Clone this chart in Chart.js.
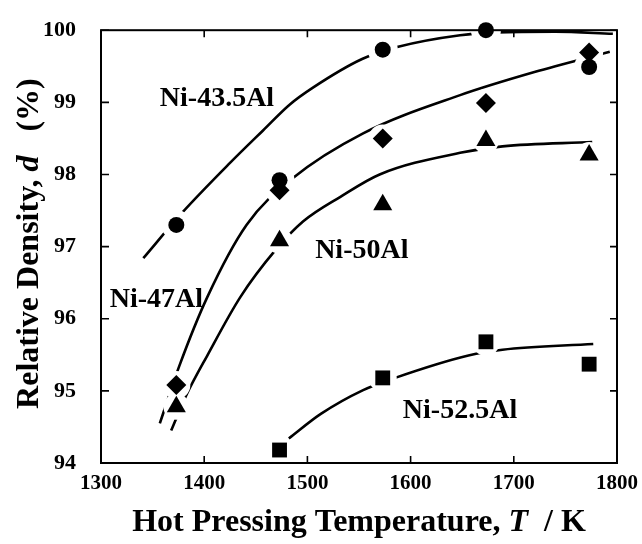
<!DOCTYPE html>
<html>
<head>
<meta charset="utf-8">
<script src="https://cdn.jsdelivr.net/npm/chart.js@4.4.1/dist/chart.umd.min.js"></script>
<style>
  html, body { margin: 0; padding: 0; background: #fff; }
  #wrap { width: 642px; height: 544px; }
</style>
</head>
<body>
<div id="wrap"><canvas id="densityChart" width="642" height="544"></canvas></div>
<script>
// Hot pressing temperatures (K)
const temps = [1373, 1473, 1573, 1673, 1773];

// Measured relative density (%)
const ni435 = [97.3, 97.92, 99.73, 100.0, 99.49];
const ni47 = [95.08, 97.78, 98.5, 98.99, 99.69];
const ni50 = [94.78, 97.08, 97.58, 98.47, 98.27];
const ni525 = [null, 94.18, 95.18, 95.68, 95.37];

// Trend curves (T, d)
const fit435T = [1341, 1378, 1425, 1457, 1483, 1505, 1553, 1588, 1648, 1684, 1740, 1796];
const fit435D = [96.84, 97.46, 98.16, 98.61, 98.97, 99.2, 99.6, 99.77, 99.93, 99.97, 99.98, 99.95];
const fit47T = [1357, 1376, 1403, 1441, 1486, 1554, 1648, 1720, 1793];
const fit47D = [94.55, 95.35, 96.3, 97.3, 97.95, 98.57, 99.1, 99.42, 99.7];
const fit50T = [1368, 1383, 1403, 1435, 1469, 1496, 1532, 1570, 1648, 1689, 1776];
const fit50D = [94.45, 94.95, 95.49, 96.3, 96.95, 97.35, 97.69, 98.0, 98.3, 98.39, 98.45];
const fit525T = [1482, 1513, 1554, 1585, 1656, 1689, 1777];
const fit525D = [94.34, 94.68, 95.01, 95.18, 95.49, 95.57, 95.65];

const xTicks = [1300, 1400, 1500, 1600, 1700, 1800];
const yTicks = [94, 95, 96, 97, 98, 99, 100];

const seriesNames = ['Ni-43.5Al', 'Ni-47Al', 'Ni-50Al', 'Ni-52.5Al'];

const SERIF = "'Liberation Serif', 'Times New Roman', serif";

function pts(xs, ys) {
  return xs.map((v, i) => ({ x: v, y: ys[i] })).filter(p => p.y !== null);
}

// higher order is painted first: curves, then white patches, then symbols
function curve(xs, ys) {
  return {
    data: pts(xs, ys),
    showLine: true,
    borderColor: '#000',
    borderWidth: 2.6,
    pointRadius: 0,
    cubicInterpolationMode: 'monotone',
    order: 3
  };
}

// white patch under each symbol so the curves break around it
function halo(ys, r) {
  return {
    data: pts(temps, ys),
    pointStyle: 'circle',
    pointRadius: r,
    pointBackgroundColor: '#fff',
    pointBorderWidth: 0,
    clip: false,
    order: 2
  };
}

function marks(ys, style, r) {
  return {
    data: pts(temps, ys),
    pointStyle: style,
    pointRadius: r,
    pointBackgroundColor: '#000',
    pointBorderColor: '#000',
    pointBorderWidth: 0,
    clip: false,
    order: 1
  };
}

// label anchors in data units (left edge, baseline)
const nameAt = [
  { x: 1357, y: 98.95 },
  { x: 1308.5, y: 96.16 },
  { x: 1507.5, y: 96.84 },
  { x: 1592.5, y: 94.62 }
];

const frameTicks = {
  id: 'frameTicks',
  afterDatasetsDraw(chart) {
    const { ctx, chartArea: a, scales: { x, y } } = chart;
    ctx.save();
    ctx.strokeStyle = '#000';
    ctx.lineWidth = 2;
    ctx.strokeRect(a.left, a.top, a.right - a.left, a.bottom - a.top);
    ctx.lineWidth = 1.6;
    ctx.beginPath();
    xTicks.forEach(v => {
      const px = x.getPixelForValue(v);
      ctx.moveTo(px, a.bottom); ctx.lineTo(px, a.bottom - 7);
      ctx.moveTo(px, a.top); ctx.lineTo(px, a.top + 7);
    });
    yTicks.forEach(v => {
      const py = y.getPixelForValue(v);
      ctx.moveTo(a.left, py); ctx.lineTo(a.left + 8, py);
      ctx.moveTo(a.right, py); ctx.lineTo(a.right - 7, py);
    });
    ctx.stroke();

    // series names
    ctx.fillStyle = '#000';
    ctx.font = 'bold 28px ' + SERIF;
    ctx.textAlign = 'left';
    ctx.textBaseline = 'alphabetic';
    seriesNames.forEach((n, i) => {
      ctx.fillText(n, x.getPixelForValue(nameAt[i].x), y.getPixelForValue(nameAt[i].y));
    });
    ctx.restore();
  }
};

// axis titles with italic symbols
function drawRuns(ctx, runs, cx, cy) {
  let total = 0;
  runs.forEach(r => { ctx.font = r.f; r.w = ctx.measureText(r.t).width; total += r.w; });
  let px = cx - total / 2;
  runs.forEach(r => { ctx.font = r.f; ctx.fillText(r.t, px, cy); px += r.w; });
}

const axisTitles = {
  id: 'axisTitles',
  afterDraw(chart) {
    const { ctx, chartArea: a } = chart;
    const b = 'bold 32px ' + SERIF;
    const bi = 'italic bold 32px ' + SERIF;
    ctx.save();
    ctx.fillStyle = '#000';
    ctx.textAlign = 'left';
    ctx.textBaseline = 'alphabetic';
    drawRuns(ctx, [
      { t: 'Hot Pressing Temperature, ', f: b },
      { t: 'T', f: bi },
      { t: '  / K', f: b }
    ], (a.left + a.right) / 2, 531);

    ctx.translate(38, (a.top + a.bottom) / 2 - 3);
    ctx.rotate(-Math.PI / 2);
    drawRuns(ctx, [
      { t: 'Relative Density, ', f: b },
      { t: 'd', f: bi },
      { t: '   (%)', f: b }
    ], 0, 0);
    ctx.restore();
  }
};

new Chart(document.getElementById('densityChart'), {
  type: 'scatter',
  data: {
    datasets: [
      curve(fit435T, fit435D),
      curve(fit47T, fit47D),
      curve(fit50T, fit50D),
      curve(fit525T, fit525D),
      halo(ni435, 15), halo(ni47, 14), halo(ni50, 13), halo(ni525, 14),
      marks(ni435, 'circle', 8),
      marks(ni47, 'rectRot', 10),
      marks(ni50, 'triangle', 11),
      marks(ni525, 'rect', 10.5)
    ]
  },
  options: {
    responsive: false,
    animation: false,
    layout: { padding: { top: 19, right: 25, left: 0, bottom: 0 } },
    plugins: { legend: { display: false }, tooltip: { enabled: false } },
    scales: {
      x: {
        type: 'linear',
        min: 1300, max: 1800,
        afterBuildTicks: s => { s.ticks = xTicks.map(v => ({ value: v })); },
        afterFit: s => { s.height = 81; },
        grid: { display: false },
        border: { display: false },
        ticks: {
          color: '#000', padding: 0,
          font: { family: SERIF, size: 21, weight: 'bold' },
          callback: v => String(v)
        }
      },
      y: {
        type: 'linear',
        min: 94, max: 100,
        afterBuildTicks: s => { s.ticks = yTicks.map(v => ({ value: v })); },
        afterFit: s => { s.width = 101; },
        grid: { display: false },
        border: { display: false },
        ticks: {
          color: '#000', padding: 17,
          font: { family: SERIF, size: 22, weight: 'bold' },
          callback: v => String(v)
        }
      }
    }
  },
  plugins: [frameTicks, axisTitles]
});
</script>
</body>
</html>
